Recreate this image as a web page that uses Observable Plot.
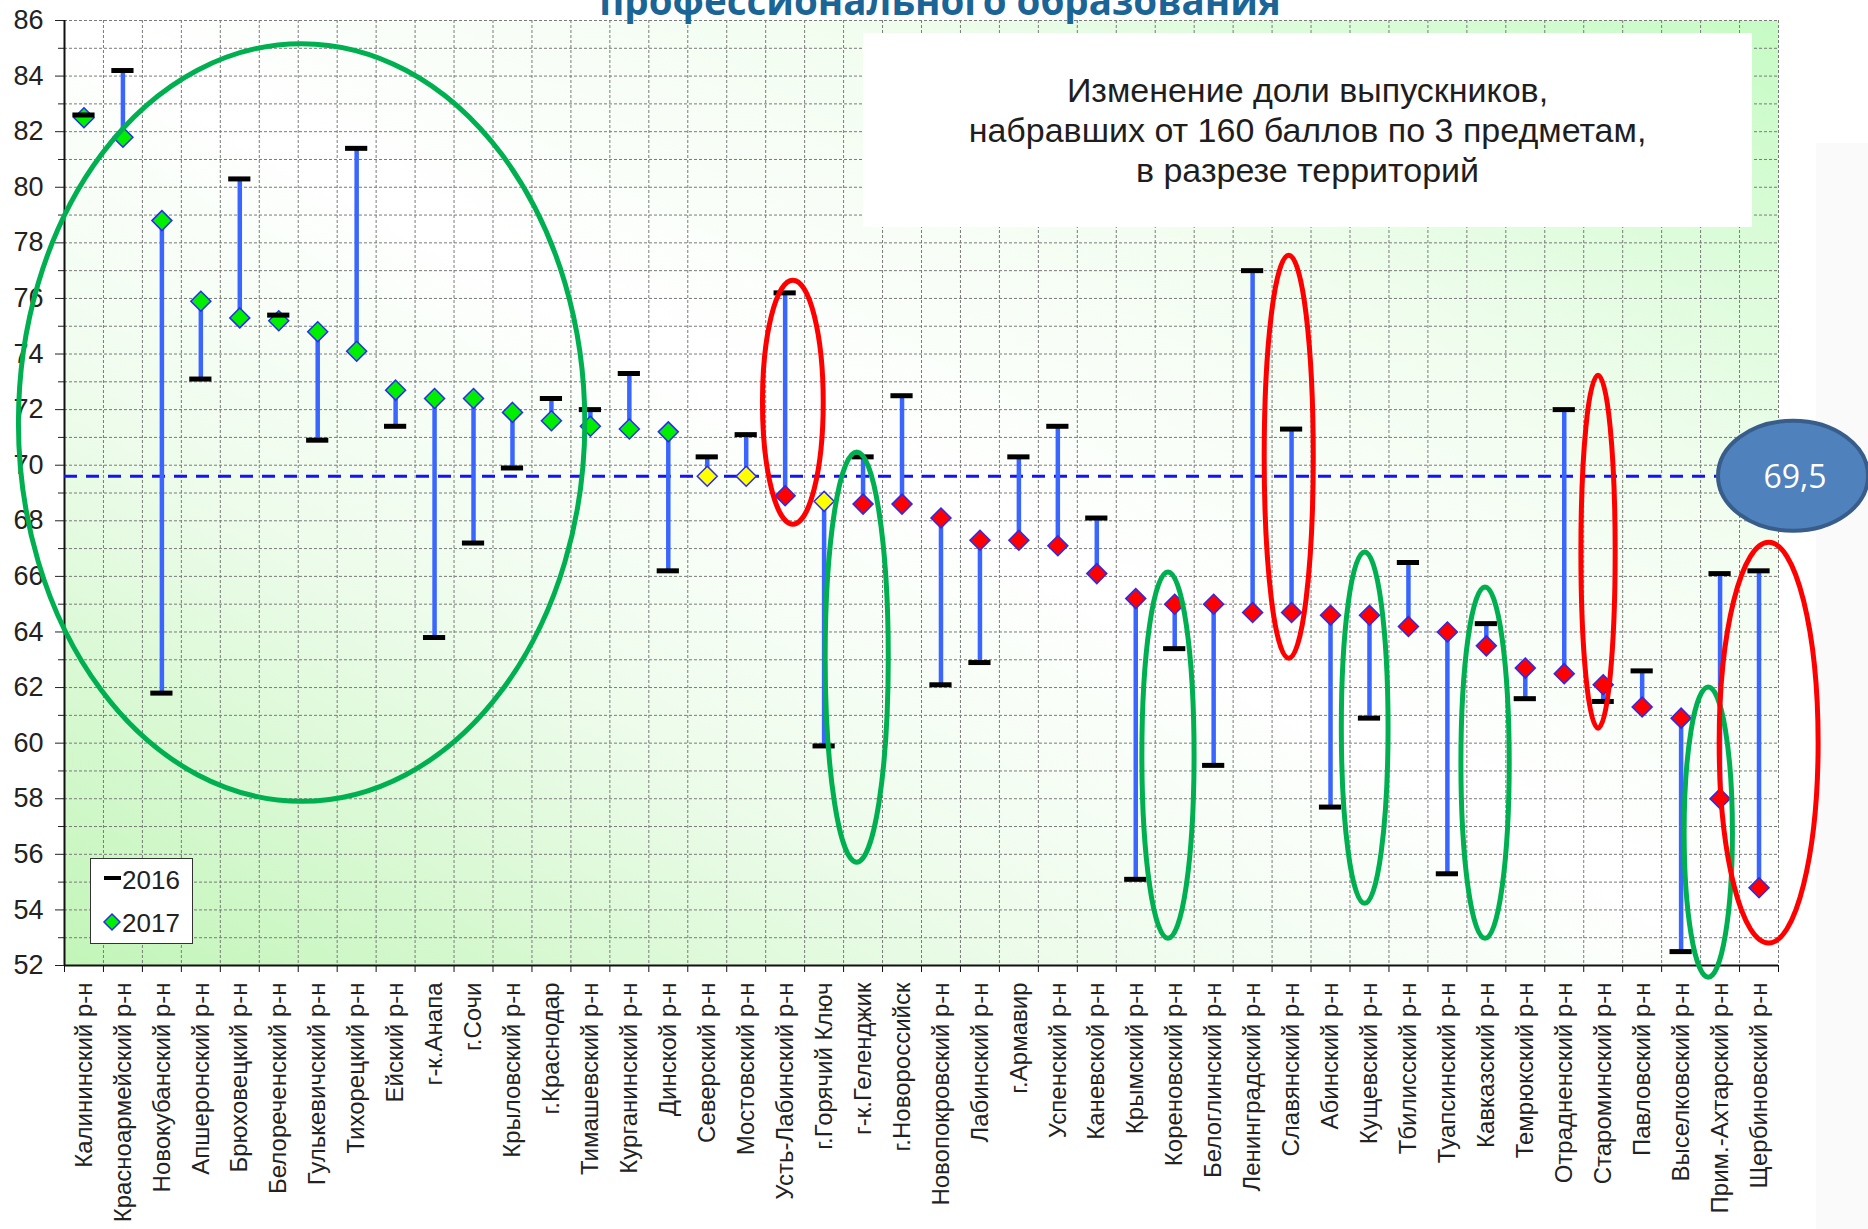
<!DOCTYPE html>
<html><head><meta charset="utf-8">
<script src="https://cdn.jsdelivr.net/npm/d3@7"></script>
<script src="https://cdn.jsdelivr.net/npm/@observablehq/plot@0.6"></script>
<style>
body{margin:0;background:#fff;}
#wrap{position:relative;width:1868px;height:1229px;overflow:hidden;font-family:"Liberation Sans",Arial,sans-serif;}
#grey{position:absolute;left:1816px;top:143px;width:52px;height:1086px;background:#fafafa;}
#chart{position:absolute;left:0;top:0;}
#title{position:absolute;left:0;width:1880px;top:-19px;text-align:center;font-family:"Open Sans",sans-serif;font-weight:700;font-size:38.5px;line-height:1;color:#1a6496;white-space:nowrap;}
#tbox{position:absolute;left:863px;top:33px;width:889px;height:194px;background:#fff;}
#tbox div{position:absolute;left:0;right:0;top:37px;text-align:center;font-size:34px;line-height:40px;color:#1e1e1e;}
#legend{position:absolute;left:90px;top:858px;width:103px;height:86px;box-sizing:border-box;border:1.5px solid #333;background:#fff;}
#legend span{position:absolute;font-size:26px;color:#222;line-height:1;}
#legend svg{position:absolute;left:0;top:0;}
</style></head>
<body>
<div id="wrap">
  <div id="grey"></div>
  <div id="chart"></div>
  <div id="title">профессионального образования</div>
  <div id="tbox"><div>Изменение доли выпускников,<br>набравших от 160 баллов по 3 предметам,<br>в разрезе территорий</div></div>
  <div id="legend">
    <svg width="103" height="86">
      <rect x="13" y="17" width="17" height="4" fill="#000"></rect>
      <path d="M21,55 L29,63 L21,71 L13,63 Z" fill="#00ee00" stroke="#2a2af5" stroke-width="1.5"></path>
    </svg>
    <span style="left:31px;top:8px;">2016</span>
    <span style="left:31px;top:51px;">2017</span>
  </div>
</div>
<script>
const categories = ["Калининский р-н","Красноармейский р-н","Новокубанский р-н","Апшеронский р-н","Брюховецкий р-н","Белореченский р-н","Гулькевичский р-н","Тихорецкий р-н","Ейский р-н","г-к.Анапа","г.Сочи","Крыловский р-н","г.Краснодар","Тимашевский р-н","Курганинский р-н","Динской р-н","Северский р-н","Мостовский р-н","Усть-Лабинский р-н","г.Горячий Ключ","г-к.Геленджик","г.Новороссийск","Новопокровский р-н","Лабинский р-н","г.Армавир","Успенский р-н","Каневской р-н","Крымский р-н","Кореновский р-н","Белоглинский р-н","Ленинградский р-н","Славянский р-н","Абинский р-н","Кущевский р-н","Тбилисский р-н","Туапсинский р-н","Кавказский р-н","Темрюкский р-н","Отрадненский р-н","Староминский р-н","Павловский р-н","Выселковский р-н","Прим.-Ахтарский р-н","Щербиновский р-н"];
const v2016 = [82.6,84.2,61.8,73.1,80.3,75.4,70.9,81.4,71.4,63.8,67.2,69.9,72.4,72.0,73.3,66.2,70.3,71.1,76.2,59.9,70.3,72.5,62.1,62.9,70.3,71.4,68.1,55.1,63.4,59.2,77.0,71.3,57.7,60.9,66.5,55.3,64.3,61.6,72.0,61.5,62.6,52.5,66.1,66.2];
const v2017 = [82.5,81.8,78.8,75.9,75.3,75.2,74.8,74.1,72.7,72.4,72.4,71.9,71.6,71.4,71.3,71.2,69.6,69.6,68.9,68.7,68.6,68.6,68.1,67.3,67.3,67.1,66.1,65.2,65.0,65.0,64.7,64.7,64.6,64.6,64.2,64.0,63.5,62.7,62.5,62.1,61.3,60.9,58.0,54.8];
const group2017 = ["выше","выше","выше","выше","выше","выше","выше","выше","выше","выше","выше","выше","выше","выше","выше","выше","около","около","ниже","около","ниже","ниже","ниже","ниже","ниже","ниже","ниже","ниже","ниже","ниже","ниже","ниже","ниже","ниже","ниже","ниже","ниже","ниже","ниже","ниже","ниже","ниже","ниже","ниже"];
const groupNames = ["выше","около","ниже"];
const groupColors = ["#00ee00","#ffff00","#ff0000"];
const avgValue = 69.6;
const avgLabel = "69,5";
const yTickLabels = [52,54,56,58,60,62,64,66,68,70,72,74,76,78,80,82,84,86];
const yMinorTicks = [53,55,57,59,61,63,65,67,69,71,73,75,77,79,81,83,85];
// annotation ellipses: centre in category units / value, radii in the same units
const annCx = [6.1,18.71,20.35,31.44,28.34,33.39,36.48,39.38,42.21,43.76];
const annCy = [71.52,72.25,63.08,70.29,59.55,60.54,59.28,66.87,56.78,60.0];
const annRx = [7.27,0.78,0.81,0.63,0.67,0.60,0.62,0.44,0.62,1.27];
const annRy = [13.63,4.39,7.38,7.25,6.59,6.32,6.32,6.35,5.22,7.21];
const annKind = ["зел","крас","зел","крас","зел","зел","зел","крас","зел","крас"];

const data = categories.map((name, i) => ({name, x: i + 0.5, v16: v2016[i], v17: v2017[i], g: group2017[i]}));
const n = categories.length;
const boundaries = d3.range(0, n + 1);
const gridVals = d3.range(52, 87);

const plot = Plot.plot({
  width: 1868, height: 1229,
  marginLeft: 64, marginRight: 90, marginTop: 20, marginBottom: 264,
  style: {fontFamily: "'Liberation Sans', Arial, sans-serif", background: "transparent", overflow: "visible"},
  x: {type: "linear", domain: [0, n], label: null},
  y: {domain: [52, 86], label: null},
  marks: [
    Plot.frame({fill: "url(#bgGrad)", stroke: "none"}),
    Plot.gridY(gridVals, {stroke: "#7a7a7a", strokeOpacity: 1, strokeWidth: 1, strokeDasharray: "3,2"}),
    Plot.gridX(boundaries, {stroke: "#7a7a7a", strokeOpacity: 1, strokeWidth: 1, strokeDasharray: "3,2"}),
    Plot.axisY(yTickLabels, {tickSize: 9, tickPadding: 12, fontSize: 27, color: "#222", label: null}),
    Plot.axisY(yMinorTicks, {tickSize: 6, tickFormat: () => "", color: "#222", label: null}),
    Plot.axisX(boundaries, {tickSize: 7, tickFormat: () => "", color: "#111", label: null}),
    Plot.text(data, {x: "x", y: () => 52, text: "name", rotate: -90, textAnchor: "end", lineAnchor: "middle", dy: 17, fontSize: 24, fill: "#222"}),
    Plot.ruleX([0], {stroke: "#111", strokeWidth: 2}),
    Plot.ruleY([52], {stroke: "#111", strokeWidth: 2}),
    Plot.ruleY([avgValue], {stroke: "#1414ee", strokeWidth: 3, strokeDasharray: "13,9"}),
    Plot.ruleX(data, {x: "x", y1: "v16", y2: "v17", stroke: "#3a66ff", strokeWidth: 4.5}),
    Plot.dot(data, {x: "x", y: "v17", symbol: "diamond2", r: 9, fill: d => groupColors[groupNames.indexOf(d.g)], stroke: "#2a2af5", strokeWidth: 1.5}),
    Plot.ruleY(data, {y: "v16", x1: d => d.x - 0.285, x2: d => d.x + 0.285, stroke: "#000", strokeWidth: 5})
  ]
});
document.getElementById("chart").appendChild(plot);

const svg = d3.select(plot);
const defs = svg.insert("defs", ":first-child");
const grad = defs.append("linearGradient").attr("id", "bgGrad").attr("x1", 0).attr("y1", 1).attr("x2", 1).attr("y2", 0);
[[0, "#c2f5b8"], [0.3, "#eefcec"], [0.5, "#ffffff"], [0.72, "#f2fdf0"], [1, "#c6fbc4"]].forEach(([o, c]) =>
  grad.append("stop").attr("offset", o).attr("stop-color", c));

const xs = plot.scale("x"), ys = plot.scale("y");
const X = d3.scaleLinear(xs.domain, xs.range);
const Y = d3.scaleLinear(ys.domain, ys.range);
const unitX = X(1) - X(0), unitY = Y(0) - Y(1);

const g = svg.append("g");
annCx.forEach((cx, i) => {
  g.append("ellipse")
    .attr("cx", X(cx)).attr("cy", Y(annCy[i]))
    .attr("rx", annRx[i] * unitX).attr("ry", annRy[i] * unitY)
    .attr("fill", "none").attr("stroke", annKind[i] === "зел" ? "#00b050" : "#ff0000").attr("stroke-width", 5);
});

// average badge
const bx = X(n) + 15, by = Y(avgValue);
g.append("ellipse").attr("cx", bx).attr("cy", by).attr("rx", 75).attr("ry", 55)
  .attr("fill", "#4f81bd").attr("stroke", "#385d8a").attr("stroke-width", 4);
g.append("text").attr("x", bx + 2).attr("y", by + 12).attr("text-anchor", "middle")
  .attr("font-family", "'Open Sans', sans-serif").attr("font-size", 32).attr("fill", "#fff").text(avgLabel);
</script>
</body></html>
